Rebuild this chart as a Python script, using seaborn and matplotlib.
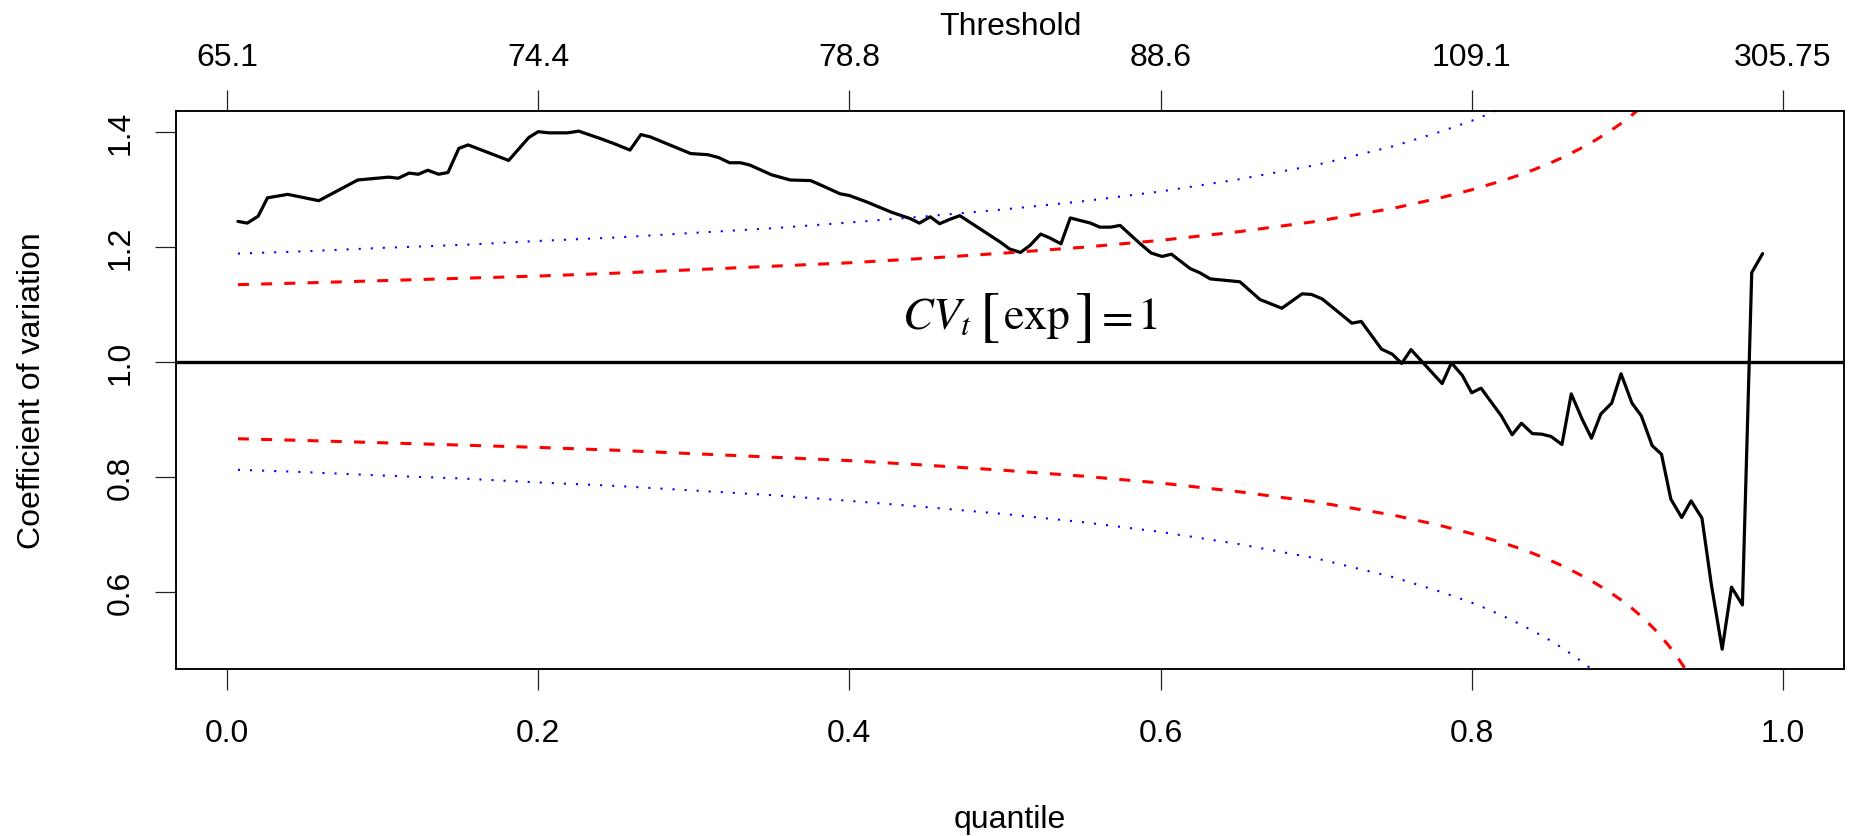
import numpy as np
import pandas as pd
import matplotlib
matplotlib.use("Agg")
import matplotlib.pyplot as plt
import seaborn as sns

# Empirical coefficient of variation of excesses over each threshold quantile
quantile = [
    0.007, 0.013, 0.020, 0.026, 0.039, 0.059, 0.084, 0.104, 0.110, 0.117,
    0.123, 0.129, 0.136, 0.142, 0.149, 0.155, 0.181, 0.194, 0.200, 0.207,
    0.219, 0.226, 0.240, 0.249, 0.259, 0.266, 0.272, 0.298, 0.309, 0.316,
    0.323, 0.330, 0.336, 0.350, 0.362, 0.375, 0.381, 0.394, 0.400, 0.411,
    0.427, 0.439, 0.445, 0.452, 0.458, 0.465, 0.471, 0.484, 0.497, 0.503,
    0.510, 0.516, 0.523, 0.529, 0.536, 0.542, 0.555, 0.561, 0.568, 0.574,
    0.587, 0.594, 0.601, 0.607, 0.619, 0.625, 0.632, 0.651, 0.664, 0.678,
    0.691, 0.697, 0.704, 0.723, 0.729, 0.742, 0.749, 0.755, 0.761, 0.781,
    0.787, 0.794, 0.800, 0.806, 0.819, 0.826, 0.832, 0.839, 0.845, 0.851,
    0.858, 0.864, 0.871, 0.877, 0.883, 0.890, 0.896, 0.903, 0.909, 0.916,
    0.922, 0.928, 0.935, 0.941, 0.948, 0.954, 0.961, 0.967, 0.974, 0.980,
    0.987,
]
cv = [
    1.244, 1.241, 1.253, 1.285, 1.291, 1.280, 1.316, 1.321, 1.319, 1.328,
    1.326, 1.333, 1.326, 1.329, 1.371, 1.377, 1.350, 1.390, 1.400, 1.398,
    1.398, 1.401, 1.388, 1.379, 1.368, 1.395, 1.391, 1.362, 1.360, 1.355,
    1.346, 1.346, 1.342, 1.325, 1.316, 1.315, 1.308, 1.292, 1.289, 1.278,
    1.260, 1.249, 1.241, 1.252, 1.240, 1.248, 1.254, 1.231, 1.208, 1.196,
    1.190, 1.202, 1.222, 1.215, 1.205, 1.250, 1.241, 1.234, 1.234, 1.237,
    1.205, 1.189, 1.183, 1.187, 1.162, 1.155, 1.144, 1.139, 1.108, 1.093,
    1.118, 1.117, 1.109, 1.067, 1.070, 1.022, 1.013, 0.997, 1.021, 0.962,
    0.998, 0.976, 0.946, 0.954, 0.906, 0.873, 0.893, 0.875, 0.874, 0.870,
    0.856, 0.944, 0.900, 0.867, 0.909, 0.928, 0.979, 0.928, 0.906, 0.854,
    0.839, 0.761, 0.729, 0.758, 0.728, 0.613, 0.500, 0.608, 0.577, 1.155,
    1.188,
]

# Confidence bands for CV = 1 (exponential excesses)
band_q = [
    0.007, 0.05, 0.10, 0.15, 0.20, 0.25, 0.30, 0.35, 0.40, 0.45, 0.50,
    0.55, 0.60, 0.65, 0.70, 0.75, 0.78, 0.80, 0.81, 0.82, 0.83, 0.84,
    0.85, 0.86, 0.87, 0.88, 0.89, 0.90, 0.91, 0.92, 0.93, 0.94,
]
red_upper = [
    1.134, 1.137, 1.141, 1.145, 1.149, 1.154, 1.160, 1.166, 1.172, 1.180,
    1.189, 1.199, 1.211, 1.226, 1.244, 1.267, 1.285, 1.299, 1.307, 1.315,
    1.324, 1.334, 1.345, 1.357, 1.371, 1.386, 1.403, 1.422, 1.445, 1.472,
]
red_lower = [
    0.866, 0.863, 0.859, 0.855, 0.851, 0.846, 0.840, 0.834, 0.828, 0.820,
    0.811, 0.801, 0.789, 0.774, 0.756, 0.733, 0.715, 0.701, 0.693, 0.685,
    0.676, 0.666, 0.655, 0.643, 0.629, 0.614, 0.597, 0.578, 0.555, 0.528,
    0.495, 0.455,
]
blue_upper = [
    1.188, 1.192, 1.198, 1.203, 1.210, 1.216, 1.224, 1.232, 1.242, 1.253,
    1.265, 1.279, 1.296, 1.317, 1.342, 1.375, 1.400, 1.419, 1.430, 1.442,
    1.455, 1.469,
]
blue_lower = [
    0.812, 0.808, 0.802, 0.797, 0.790, 0.784, 0.776, 0.768, 0.758, 0.747,
    0.735, 0.721, 0.704, 0.683, 0.658, 0.625, 0.600, 0.581, 0.570, 0.558,
    0.545, 0.531, 0.516, 0.499, 0.480, 0.459,
]

x_ticks = [0.0, 0.2, 0.4, 0.6, 0.8, 1.0]
x_tick_labels = ["0.0", "0.2", "0.4", "0.6", "0.8", "1.0"]
threshold_labels = ["65.1", "74.4", "78.8", "88.6", "109.1", "305.75"]
y_ticks = [0.6, 0.8, 1.0, 1.2, 1.4]
y_tick_labels = ["0.6", "0.8", "1.0", "1.2", "1.4"]
reference_cv = 1.0

sns.set_theme(style="ticks")
plt.rcParams["font.family"] = ["Liberation Sans", "DejaVu Sans"]
plt.rcParams["mathtext.fontset"] = "stix"

W, H = 1872, 837
fig = plt.figure(figsize=(W / 100, H / 100), dpi=100)
fig.patch.set_facecolor("white")
left, right, top, bottom = 176, 1844, 111.7, 670
ax = fig.add_axes([left / W, 1 - bottom / H, (right - left) / W, (bottom - top) / H])
ax.set_facecolor("white")

cv_df = pd.DataFrame({"quantile": quantile, "cv": cv})
sns.lineplot(data=cv_df, x="quantile", y="cv", ax=ax, color="black",
             lw=2.3, estimator=None, sort=False)

red_style = dict(color="#FF0000", lw=2.2, linestyle=(0, (3.6, 4.0)))
blue_style = dict(color="#0000FF", lw=1.5, linestyle=(0, (1.0, 4.8)))
sns.lineplot(x=band_q[:len(red_upper)], y=red_upper, ax=ax, estimator=None, **red_style)
sns.lineplot(x=band_q[:len(red_lower)], y=red_lower, ax=ax, estimator=None, **red_style)
sns.lineplot(x=band_q[:len(blue_upper)], y=blue_upper, ax=ax, estimator=None, **blue_style)
sns.lineplot(x=band_q[:len(blue_lower)], y=blue_lower, ax=ax, estimator=None, **blue_style)

ax.axhline(reference_cv, color="black", lw=2.4)

ax.set_xlim(-0.0328, 1.0393)
ax.set_ylim(0.4656, 1.4365)

# Annotation "CV_t [exp] = 1", set piece by piece so the brackets can be taller.
# Each piece starts at its preferred offset, pushed right if it would touch
# the piece before it.
px = 0.72  # points per pixel at 100 dpi
anchor = (0.4336, 1.059)
pieces = [
    (r"$CV_t$", 33, 0, 0),
    (r"$[$", 44, 77, -5),
    (r"$\mathrm{exp}$", 33, 93, 0),
    (r"$]$", 44, 163, -5),
    (r"$=$", 33, 186, 0),
    (r"$1$", 33, 224, 0),
]
renderer = fig.canvas.get_renderer()
prev_right = None
for txt, size, dx, dy in pieces:
    ann = ax.annotate(txt, xy=anchor, xycoords="data", xytext=(dx * px, dy * px),
                      textcoords="offset points", ha="left", va="baseline",
                      fontsize=size, color="black")
    bb = ann.get_window_extent(renderer)
    if prev_right is not None and bb.x0 < prev_right + 4:
        shift = prev_right + 4 - bb.x0
        ann.set_position(((dx + shift) * px, dy * px))
        bb = ann.get_window_extent(renderer)
    prev_right = bb.x1

ax.set_xticks(x_ticks)
ax.set_xticklabels(x_tick_labels)
ax.set_yticks(y_ticks)
ax.set_yticklabels(y_tick_labels, rotation=90, va="center")
ax.tick_params(axis="x", direction="out", length=15, width=0.9, color="#222222",
               labelsize=23, pad=20, labelcolor="black")
ax.tick_params(axis="y", direction="out", length=15, width=0.9, color="#222222",
               labelsize=23, pad=14, labelcolor="black")

ax.set_xlabel("quantile", fontsize=23, color="black")
ax.xaxis.label.set_va("center")
ax.xaxis.set_label_coords(0.5, (bottom - 820) / (bottom - top))
ax.set_ylabel("Coefficient of variation", fontsize=23, color="black")
ax.yaxis.label.set_va("center")
ax.yaxis.set_label_coords((31.7 - left) / (right - left), 0.5)

for sp in ax.spines.values():
    sp.set_visible(True)
    sp.set_color("black")
    sp.set_linewidth(1.1)

# Threshold values on the top axis
ax2 = ax.twiny()
ax2.set_xlim(ax.get_xlim())
ax2.set_xticks(x_ticks)
ax2.set_xticklabels(threshold_labels)
ax2.tick_params(axis="x", direction="out", length=15, width=0.9, color="#222222",
                labelsize=23, pad=13, labelcolor="black", top=True)
ax2.set_xlabel("Threshold", fontsize=23, color="black")
ax2.xaxis.label.set_va("center")
ax2.xaxis.set_label_coords(0.5, (bottom - 26.7) / (bottom - top))
for sp in ax2.spines.values():
    sp.set_linewidth(1.1)
    sp.set_color("black")

fig.savefig("out.png", dpi=100, facecolor="white")
